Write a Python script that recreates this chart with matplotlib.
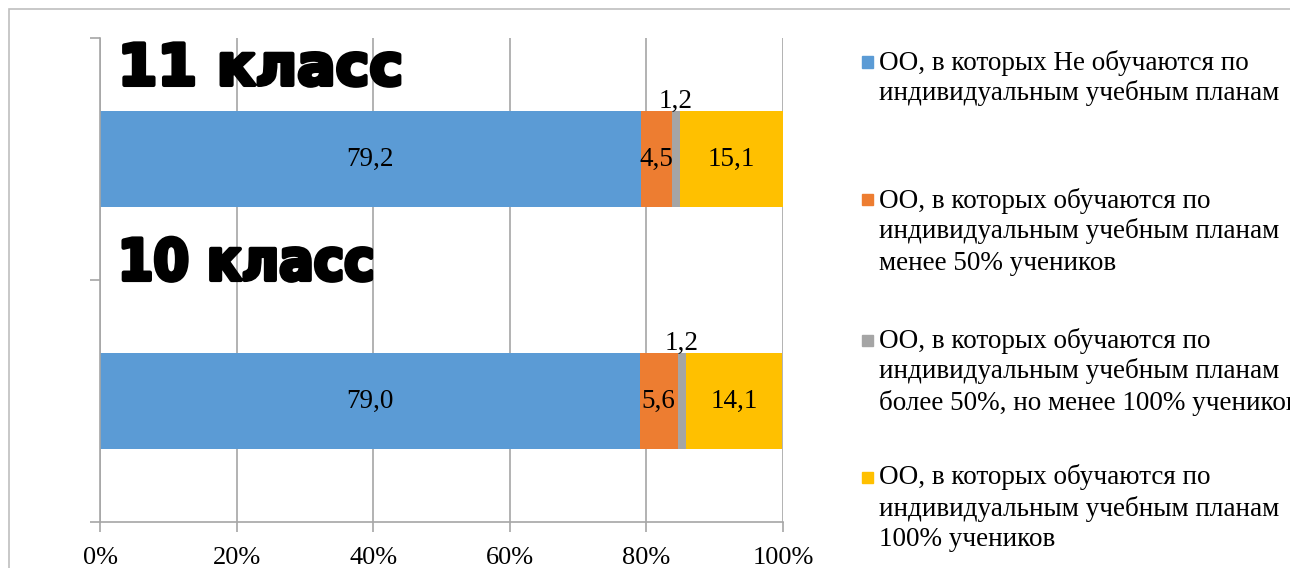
import matplotlib.pyplot as plt
import matplotlib.patheffects as pe
from matplotlib.patches import Rectangle
from matplotlib.ticker import FuncFormatter

# data
categories = ["10 класс", "11 класс"]
series_names = [
    "ОО, в которых Не обучаются по\nиндивидуальным учебным планам",
    "ОО, в которых обучаются по\nиндивидуальным учебным планам\nменее 50% учеников",
    "ОО, в которых обучаются по\nиндивидуальным учебным планам\nболее 50%, но менее 100% учеников",
    "ОО, в которых обучаются по\nиндивидуальным учебным планам\n100% учеников",
]
values = [
    [79.0, 79.2],
    [5.6, 4.5],
    [1.2, 1.2],
    [14.1, 15.1],
]
colors = ["#5B9BD5", "#ED7D31", "#A5A5A5", "#FFC000"]
xticks = [0, 20, 40, 60, 80, 100]

serif = "Liberation Serif"
grid_c = "#A6A6A6"

fig = plt.figure(figsize=(12.9, 5.68), dpi=100)
ax = fig.add_axes([100 / 1290, 1 - 522 / 568, 683 / 1290, 484 / 568])

ypos = list(range(len(categories)))
left = [0.0] * len(categories)
for i, vals in enumerate(values):
    ax.barh(ypos, vals, left=left, height=0.4, color=colors[i], zorder=2)
    for j, v in enumerate(vals):
        label = f"{v:.1f}".replace(".", ",")
        if i == 2:
            ax.text(left[j] + v / 2, ypos[j] + 0.2 + 0.01, label, ha="center", va="baseline",
                    fontsize=19.5, family=serif, zorder=3)
        else:
            ax.text(left[j] + v / 2, ypos[j], label, ha="center", va="center",
                    fontsize=19.5, family=serif, zorder=3)
    left = [l + v for l, v in zip(left, vals)]

# big class captions
cap_stretch = ["condensed", "normal"]
cap_offsets = [0.5, 0.306]
for j, name in enumerate(categories):
    ax.text(2.6, ypos[j] + cap_offsets[j], name, ha="left", va="baseline", fontsize=41,
            family="DejaVu Sans", fontstretch=cap_stretch[j], fontweight="bold",
            color="black", zorder=4,
            path_effects=[pe.withStroke(linewidth=3, foreground="black")])

ax.set_xlim(0, 100)
ax.set_ylim(-0.5, 1.5)
ax.set_xticks(xticks)
ax.xaxis.set_major_formatter(FuncFormatter(lambda x, p: f"{x:.0f}%"))
ax.set_yticks([-0.5, 0.5, 1.5])
ax.set_yticklabels([])
ax.grid(axis="x", color=grid_c, linewidth=1.2, zorder=0)
ax.set_axisbelow(True)
for s in ["top", "right"]:
    ax.spines[s].set_visible(False)
for s in ["left", "bottom"]:
    ax.spines[s].set_color(grid_c)
    ax.spines[s].set_linewidth(1.2)
ax.tick_params(axis="x", direction="out", length=7, width=1.2, color=grid_c, pad=11, labelsize=19)
ax.tick_params(axis="y", direction="out", length=7, width=1.2, color=grid_c)
for t in ax.get_xticklabels():
    t.set_family(serif)

# legend drawn by hand, one text per line
centers = [62, 200, 340, 477]
for i, name in enumerate(series_names):
    fig.patches.append(Rectangle((862 / 1290, 1 - (centers[i] + 5.5) / 568), 11 / 1290, 11 / 568,
                                 transform=fig.transFigure, color=colors[i]))
    for k, line in enumerate(name.split("\n")):
        fig.text(879 / 1290, 1 - (centers[i] + 7.5 + 31 * k) / 568, line, ha="left",
                 va="baseline", fontsize=19.5, family=serif)

# outer frame
fig.patches.append(Rectangle((9 / 1290, -0.1), 1.2, 1.1 - 9 / 568, transform=fig.transFigure,
                             fill=False, edgecolor="#BFBFBF", linewidth=1.2))

fig.savefig("out.png", dpi=100)
